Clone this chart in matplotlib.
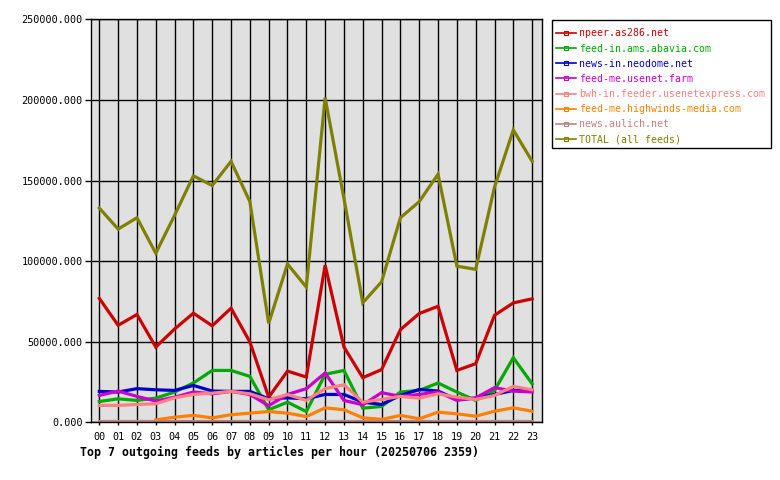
import numpy as np
import matplotlib
matplotlib.use("Agg")
import matplotlib.pyplot as plt
from matplotlib.patches import Rectangle

hours = ["%02d" % h for h in range(24)]

npeer = [77000, 60300, 67000, 46800, 58000, 67800, 60000, 70900, 50000, 15700, 31900, 28200,
         97600, 46800, 27800, 32800, 57600, 67600, 72100, 32300, 36500, 66500, 74200, 76700]
abavia = [13000, 14700, 13700, 15100, 18900, 24500, 32300, 32300, 28600, 7900, 12600, 6800,
          29900, 32300, 8900, 9950, 18900, 19900, 24500, 18900, 13700, 19900, 40200, 24000]
neodome = [19300, 18900, 21000, 20300, 19900, 23000, 19500, 19300, 19300, 14700, 15300, 14700,
           17400, 17400, 12600, 11200, 16800, 20500, 19500, 14300, 15100, 17400, 19900, 19900]
usenetfarm = [16800, 19500, 16200, 13300, 15700, 18900, 17800, 19300, 17400, 10400, 17400, 21000,
              30700, 13700, 11000, 18500, 16200, 17400, 18900, 13700, 15300, 21600, 19500, 18900]
usenetexpress = [10600, 10600, 11200, 11600, 15300, 17400, 18200, 19300, 17800, 14100, 17400, 13700,
                 21000, 23400, 12600, 14300, 16200, 15100, 17800, 15700, 14300, 16800, 22400, 20300]
highwinds = [np.nan, np.nan, np.nan, 1600, 3300, 4400, 2900, 4800, 5800, 6800, 5800, 3700,
             9100, 7900, 2900, 1900, 4400, 2300, 6400, 5400, 3900, 7000, 9100, 7000]
aulich = [900, 900, 900, 900, 900, 900, 900, 900, 900, 900, 900, 900,
          900, 900, 900, 900, 900, 900, 900, 900, 900, 900, 900, 900]
total = [133000, 120000, 127000, 105000, 128500, 153000, 147000, 162000, 137000, 61500, 98300, 84000,
         201500, 139000, 74200, 87300, 127000, 137000, 154000, 97000, 95000, 146000, 181500, 162000]

feeds = ["npeer.as286.net", "feed-in.ams.abavia.com", "news-in.neodome.net", "feed-me.usenet.farm",
         "bwh-in.feeder.usenetexpress.com", "feed-me.highwinds-media.com", "news.aulich.net",
         "TOTAL (all feeds)"]
series = [npeer, abavia, neodome, usenetfarm, usenetexpress, highwinds, aulich, total]
colors = ["#cc0000", "#00aa00", "#0000cc", "#cc00cc", "#ff8080", "#ff8000", "#c08080", "#808000"]

plt.rcParams["font.family"] = "DejaVu Sans Mono"

fig = plt.figure(figsize=(7.8, 4.8), dpi=100)
ax = fig.add_axes([0.1167, 0.1198, 0.5788, 0.8396])
ax.set_facecolor("#e0e0e0")

x = np.arange(len(hours))
for vals, c, name in zip(series, colors, feeds):
    ax.plot(x, vals, color=c, lw=2.3, label=name, solid_joinstyle="miter")

ax.set_xlim(-0.44, 23.55)
ax.set_ylim(0, 250000)
ax.set_xticks(x)
ax.set_xticklabels(hours)
ax.set_yticks(np.arange(0, 250001, 50000))
ax.set_yticklabels(["%.3f" % v for v in np.arange(0, 250001, 50000)])
ax.grid(True, color="black", lw=1.0)
ax.set_axisbelow(True)
ax.tick_params(axis="y", direction="out", length=4, width=1, labelsize=7.3, pad=2)
ax.tick_params(axis="x", direction="out", length=2.5, width=1, labelsize=7.3, pad=4)
for s in ax.spines.values():
    s.set_color("black")
    s.set_linewidth(1.0)

# legend box drawn by hand so the padding matches
fig.patches.append(Rectangle((552 / 780, 1 - 148 / 480), 219 / 780, 128 / 480,
                             transform=fig.transFigure, fill=False, edgecolor="black", lw=1.0))
handles = [plt.Line2D([], [], color=c, lw=1.2, marker="s", markersize=2.5,
                      fillstyle="none", markeredgewidth=0.8) for c in colors]
leg = fig.legend(handles, feeds, loc="upper left", bbox_to_anchor=(553.5 / 780, 1 - 25.5 / 480),
                 fontsize=7.15, frameon=False, handlelength=2.0,
                 handletextpad=0.3, labelspacing=0.52, borderpad=0.3, borderaxespad=0)
for t, c in zip(leg.get_texts(), colors):
    t.set_color(c)

fig.text(0.1026, 0.058, "Top 7 outgoing feeds by articles per hour (20250706 2359)",
         fontsize=8.4, fontweight="bold", ha="left", va="center")

fig.savefig("out.png", dpi=100)
